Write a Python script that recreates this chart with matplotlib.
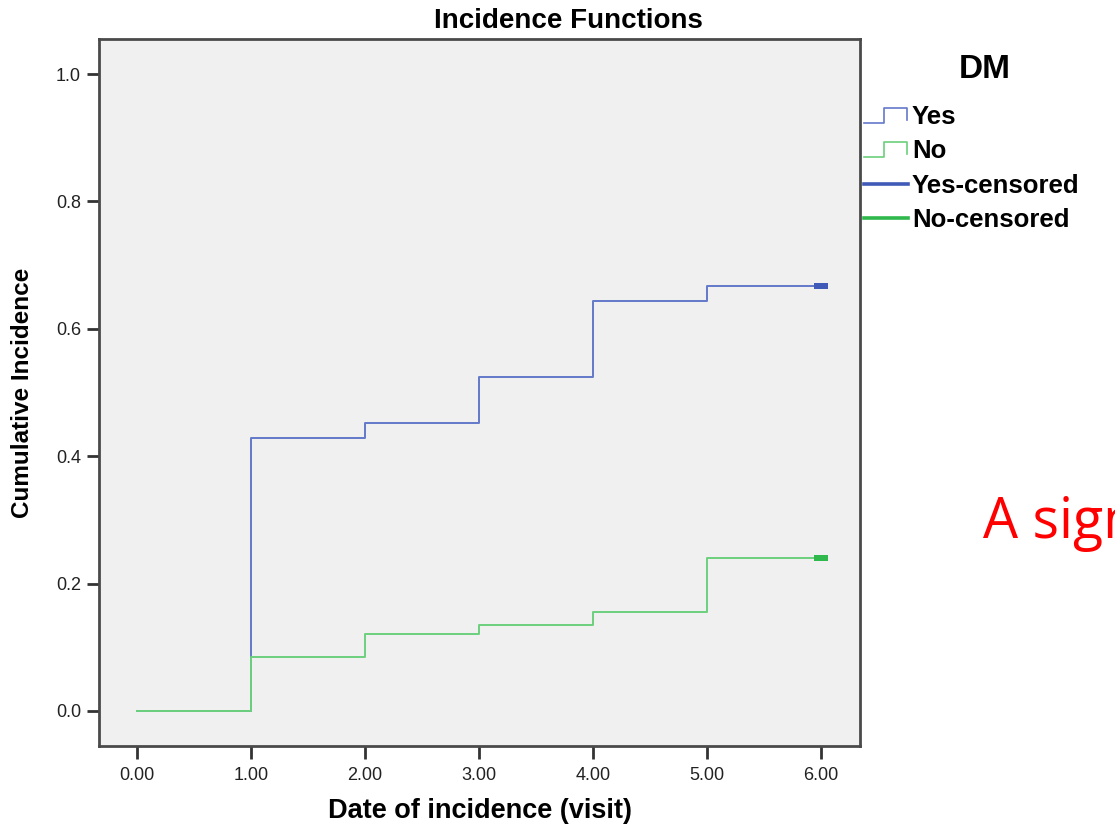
import matplotlib
matplotlib.use('Agg')
import matplotlib.pyplot as plt

plt.rcParams['font.family'] = ['Liberation Sans', 'DejaVu Sans']

# data
visits = [0, 1, 2, 3, 4, 5, 6]
yes_ci = [0.0, 0.429, 0.452, 0.524, 0.643, 0.667, 0.667]
no_ci = [0.0, 0.085, 0.121, 0.135, 0.155, 0.240, 0.240]
censor_time = 6
yes_censored = 0.667
no_censored = 0.240
xtick_vals = [0, 1, 2, 3, 4, 5, 6]
ytick_vals = [0.0, 0.2, 0.4, 0.6, 0.8, 1.0]

c_yes = '#6379c9'
c_no = '#6cd07c'
c_yes_c = '#3f5ab7'
c_no_c = '#2fb84c'
spine_c = '#4a4a4a'

fig = plt.figure(figsize=(11.15, 8.25), dpi=100)
ax = fig.add_axes([99/1115, 1 - 746/825, (860-99)/1115, (746-39)/825])
ax.set_facecolor('#f0f0f0')

ax.step(visits, yes_ci, where='post', color=c_yes, lw=1.4, zorder=3)
ax.step(visits, no_ci, where='post', color=c_no, lw=1.4, zorder=4)

box = [(-1, -0.45), (1, -0.45), (1, 0.45), (-1, 0.45)]
ax.plot([censor_time], [yes_censored], marker=box, ms=9.5, color=c_yes_c,
        mec=c_yes_c, mew=0, ls='none', zorder=5)
ax.plot([censor_time], [no_censored], marker=box, ms=9.5, color=c_no_c,
        mec=c_no_c, mew=0, ls='none', zorder=5)

ax.set_xlim(-0.333, 6.34)
ax.set_ylim(-0.055, 1.055)
ax.set_xticks(xtick_vals)
ax.set_xticklabels([f'{v:.2f}' for v in xtick_vals])
ax.set_yticks(ytick_vals)
ax.set_yticklabels([f'{v:.1f}' for v in ytick_vals])
ax.tick_params(axis='both', direction='out', length=9, width=2, color='#333333',
               labelsize=13, labelcolor='#222222', pad=4)
ax.tick_params(axis='x', pad=6)
for s in ax.spines.values():
    s.set_color(spine_c)
    s.set_linewidth(2)

ax.set_xlabel('Date of incidence (visit)', fontsize=19.5, fontweight='bold', labelpad=10)
ax.set_ylabel('Cumulative Incidence', fontsize=17.5, fontweight='bold', labelpad=16)

fig.text(568/1115, 1 - 21/825, 'Incidence Functions', ha='center', va='center',
         fontsize=20, fontweight='bold')

# legend drawn by hand in pixel coordinates
lg = fig.add_axes([0, 0, 1, 1], facecolor='none')
lg.set_xlim(0, 1115)
lg.set_ylim(825, 0)
lg.axis('off')
lg.text(985, 70, 'DM', ha='center', va='center', fontsize=24, fontweight='bold')
for y, col in [(116, c_yes), (150, c_no)]:
    lg.plot([864, 884, 884, 907, 907], [y + 7, y + 7, y - 8, y - 8, y + 4],
            color=col, lw=1.2)
lg.plot([864, 908], [184, 184], color=c_yes_c, lw=2.6)
lg.plot([864, 908], [218, 218], color=c_no_c, lw=2.6)
for y, t in [(117, 'Yes'), (151, 'No'), (186, 'Yes-censored'), (220, 'No-censored')]:
    lg.text(912, y, t, ha='left', va='center', fontsize=18.5, fontweight='bold')

lg.text(983, 523, 'A sign', ha='left', va='center', fontsize=40, color='#ff0000',
        family=['Open Sans', 'DejaVu Sans'])

fig.savefig('out.png', dpi=100)
